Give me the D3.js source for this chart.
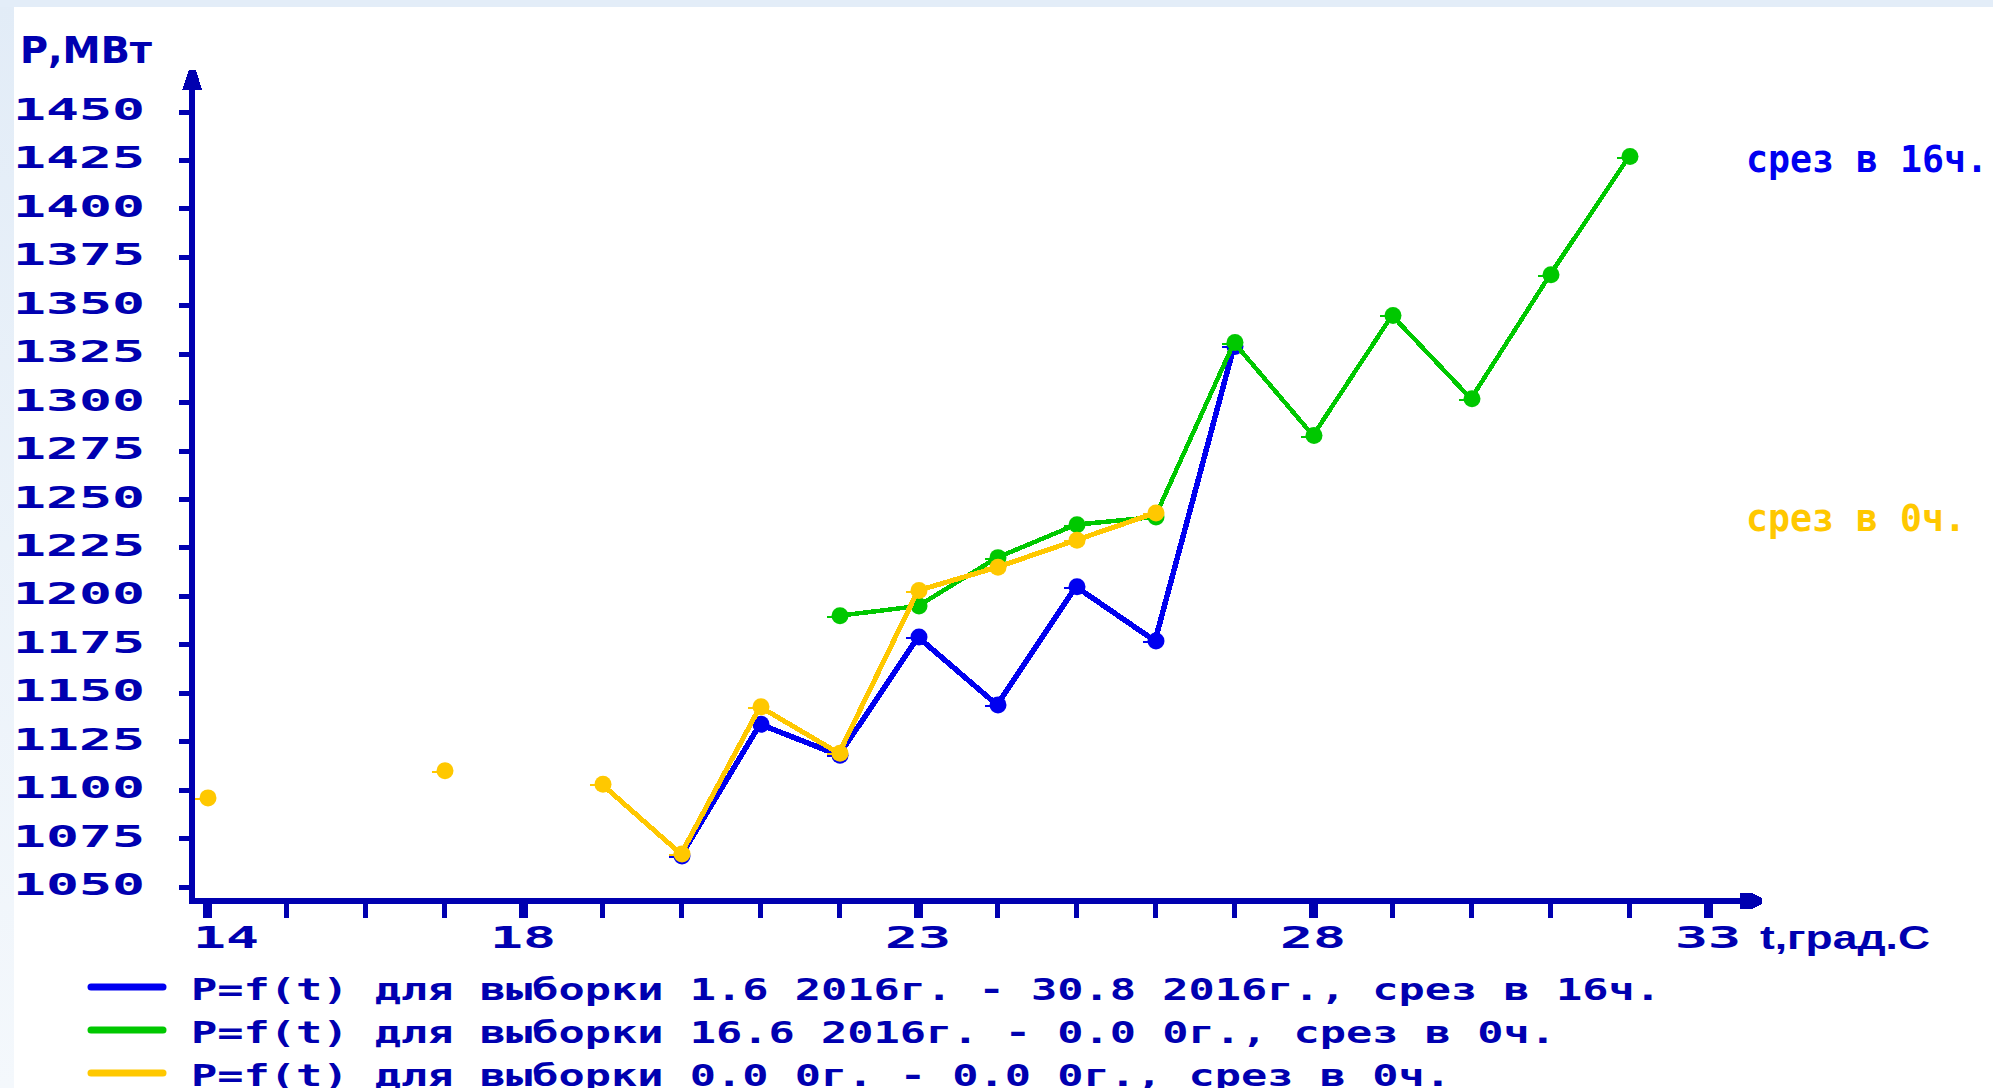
<!DOCTYPE html>
<html>
<head>
<meta charset="utf-8">
<script src="https://cdn.jsdelivr.net/npm/d3@7/dist/d3.min.js"></script>
<style>
  html, body { margin: 0; padding: 0; background: #ffffff; overflow: hidden; }
  svg { display: block; }
</style>
</head>
<body>
<svg id="chart" width="1993" height="1088"></svg>
<script>
// Temperature (t, °C) and power (P, MW) series
const tBlue   = [20, 21, 22, 23, 24, 25, 26, 27];
const pBlue   = [1066, 1134, 1118, 1179, 1144, 1205, 1177, 1329];

const tGreen  = [22, 23, 24, 25, 26, 27, 28, 29, 30, 31, 32];
const pGreen  = [1190, 1195, 1220, 1237, 1241, 1331, 1283, 1345, 1302, 1366, 1427];

const tYellow = [14, 15, 16, 17, 18, 19, 20, 21, 22, 23, 24, 25, 26];
const pYellow = [1096, null, null, 1110, null, 1103, 1067, 1143, 1119, 1203, 1215, 1229, 1243];

// Axis ticks
const yTickValues = [1050, 1075, 1100, 1125, 1150, 1175, 1200, 1225, 1250, 1275, 1300, 1325, 1350, 1375, 1400, 1425, 1450];
const xTickValues = [14, 15, 16, 17, 18, 19, 20, 21, 22, 23, 24, 25, 26, 27, 28, 29, 30, 31, 32, 33];
const xLabelValues = [14, 18, 23, 28, 33];

// Texts
const yTitle = "Р,МВт";
const xTitle = "t,град.С";
const legendLabels = [
  "P=f(t) для выборки 1.6 2016г. - 30.8 2016г., срез в 16ч.",
  "P=f(t) для выборки 16.6 2016г. - 0.0 0г., срез в 0ч.",
  "P=f(t) для выборки 0.0 0г. - 0.0 0г., срез в 0ч."
];
const sideLabels = ["срез в 16ч.", "срез в 0ч."];

const AXIS = "#0000b0";
const BLUE = "#0000f0";
const GREEN = "#00c800";
const YELLOW = "#ffc800";
const MONO = "'DejaVu Sans Mono', 'Liberation Mono', monospace";

const svg = d3.select("#chart");

// soft blue frame strips
const defs = svg.append("defs");
const grad = defs.append("linearGradient").attr("id", "leftStrip")
  .attr("x1", 0).attr("y1", 0).attr("x2", 0).attr("y2", 1);
grad.append("stop").attr("offset", "0%").attr("stop-color", "#e2ecf7");
grad.append("stop").attr("offset", "100%").attr("stop-color", "#f4f8fc");
svg.append("rect").attr("x", 0).attr("y", 0).attr("width", 14).attr("height", 1088).attr("fill", "url(#leftStrip)");
svg.append("rect").attr("x", 0).attr("y", 0).attr("width", 1993).attr("height", 7).attr("fill", "#e3edf8");

const x = d3.scaleLinear().domain([14, 33]).range([207, 1708]);
const y = d3.scaleLinear().domain([1050, 1450]).range([887, 112]);

const yAxisX = x.range()[0] - 15;   // vertical axis line
const xAxisY = y.range()[0] + 14;   // horizontal axis line

const axisG = svg.append("g").attr("shape-rendering", "crispEdges");

// vertical axis with arrow
axisG.append("line")
  .attr("x1", yAxisX).attr("x2", yAxisX)
  .attr("y1", xAxisY + 3).attr("y2", y(1450) - 24)
  .attr("stroke", AXIS).attr("stroke-width", 6);
axisG.append("path")
  .attr("d", `M${yAxisX - 10},${y(1450) - 22} L${yAxisX + 10},${y(1450) - 22} L${yAxisX + 4},${y(1450) - 42} L${yAxisX - 3},${y(1450) - 42} Z`)
  .attr("fill", AXIS);

// horizontal axis with arrow
const xEnd = x(33) + 32;
axisG.append("line")
  .attr("x1", yAxisX - 3).attr("x2", xEnd + 2)
  .attr("y1", xAxisY).attr("y2", xAxisY)
  .attr("stroke", AXIS).attr("stroke-width", 6);
axisG.append("path")
  .attr("d", `M${xEnd},${xAxisY - 8} L${xEnd + 12},${xAxisY - 8} L${xEnd + 22},${xAxisY - 3} L${xEnd + 22},${xAxisY + 3} L${xEnd + 12},${xAxisY + 8} L${xEnd},${xAxisY + 8} Z`)
  .attr("fill", AXIS);

// y ticks and labels
axisG.selectAll(".ytick").data(yTickValues).join("line")
  .attr("class", "ytick")
  .attr("x1", yAxisX - 13).attr("x2", yAxisX)
  .attr("y1", d => y(d)).attr("y2", d => y(d))
  .attr("stroke", AXIS).attr("stroke-width", 5);

svg.selectAll(".ylabel").data(yTickValues).join("text")
  .attr("class", "ylabel")
  .attr("x", 145).attr("y", d => y(d) + 8)
  .attr("text-anchor", "end")
  .attr("font-family", MONO).attr("font-weight", "bold").attr("font-size", 30)
  .attr("textLength", d => String(d).length * 33)
  .attr("lengthAdjust", "spacingAndGlyphs")
  .attr("fill", AXIS)
  .text(d => d);

// x ticks and labels
axisG.selectAll(".xtick").data(xTickValues).join("line")
  .attr("class", "xtick")
  .attr("x1", d => x(d)).attr("x2", d => x(d))
  .attr("y1", xAxisY).attr("y2", xAxisY + 17)
  .attr("stroke", AXIS)
  .attr("stroke-width", d => xLabelValues.includes(d) ? 9 : 5);

svg.selectAll(".xlabel").data(xLabelValues).join("text")
  .attr("class", "xlabel")
  .attr("x", d => Math.max(x(d), yAxisX + 34))
  .attr("y", xAxisY + 47)
  .attr("text-anchor", "middle")
  .attr("font-family", MONO).attr("font-weight", "bold").attr("font-size", 30)
  .attr("textLength", d => String(d).length * 33)
  .attr("lengthAdjust", "spacingAndGlyphs")
  .attr("fill", AXIS)
  .text(d => d);

// axis titles
svg.append("text")
  .attr("x", 20).attr("y", 63)
  .attr("font-family", "'DejaVu Sans', sans-serif").attr("font-weight", "bold").attr("font-size", 38)
  .attr("textLength", 132).attr("lengthAdjust", "spacingAndGlyphs")
  .attr("fill", AXIS)
  .text(yTitle);

svg.append("text")
  .attr("x", xEnd + 20).attr("y", xAxisY + 48)
  .attr("font-family", "'Liberation Sans Narrow', 'Liberation Sans', Arial, sans-serif")
  .attr("font-weight", "bold").attr("font-size", 33)
  .attr("textLength", 170).attr("lengthAdjust", "spacingAndGlyphs")
  .attr("fill", AXIS)
  .text(xTitle);

// series
const series = [
  { t: tBlue, p: pBlue, color: BLUE, width: 5.5 },
  { t: tGreen, p: pGreen, color: GREEN, width: 4.5 },
  { t: tYellow, p: pYellow, color: YELLOW, width: 5 }
];

const line = d3.line()
  .defined(d => d.p !== null)
  .x(d => x(d.t))
  .y(d => y(d.p));

series.forEach(s => {
  const pts = s.t.map((t, i) => ({ t, p: s.p[i] }));
  const g = svg.append("g");
  g.append("path")
    .datum(pts)
    .attr("d", line)
    .attr("fill", "none")
    .attr("stroke", s.color)
    .attr("stroke-width", s.width)
    .attr("stroke-linejoin", "miter")
    .attr("shape-rendering", "crispEdges");
  const defined = pts.filter(d => d.p !== null);
  g.selectAll(".tail").data(defined).join("line")
    .attr("x1", d => x(d.t) - 12).attr("x2", d => x(d.t))
    .attr("y1", d => y(d.p) + 1).attr("y2", d => y(d.p) + 1)
    .attr("stroke", s.color).attr("stroke-width", 2)
    .attr("shape-rendering", "crispEdges");
  g.selectAll("circle").data(defined).join("circle")
    .attr("cx", d => x(d.t) + 1)
    .attr("cy", d => y(d.p))
    .attr("r", 8.5)
    .attr("fill", s.color);
});

// side captions
const sideColors = [BLUE, YELLOW];
const sideY = [172, 531];
svg.selectAll(".side").data(sideLabels).join("text")
  .attr("class", "side")
  .attr("x", 1746)
  .attr("y", (d, i) => sideY[i])
  .attr("font-family", MONO).attr("font-weight", "bold").attr("font-size", 37)
  .attr("textLength", d => d.length * 22)
  .attr("lengthAdjust", "spacingAndGlyphs")
  .attr("fill", (d, i) => sideColors[i])
  .text(d => d);

// legend
const legendColors = [BLUE, GREEN, YELLOW];
const legend = svg.append("g");
legendLabels.forEach((label, i) => {
  const cy = 987 + i * 43;
  legend.append("line")
    .attr("x1", 91).attr("x2", 163)
    .attr("y1", cy).attr("y2", cy)
    .attr("stroke", legendColors[i]).attr("stroke-width", 7)
    .attr("stroke-linecap", "round");
  legend.append("text")
    .attr("x", 191).attr("y", cy + 13)
    .attr("font-family", MONO).attr("font-weight", "bold").attr("font-size", 31)
    .attr("textLength", label.length * 26.25)
    .attr("lengthAdjust", "spacingAndGlyphs")
    .attr("fill", AXIS)
    .attr("xml:space", "preserve")
    .text(label);
});
</script>
</body>
</html>
